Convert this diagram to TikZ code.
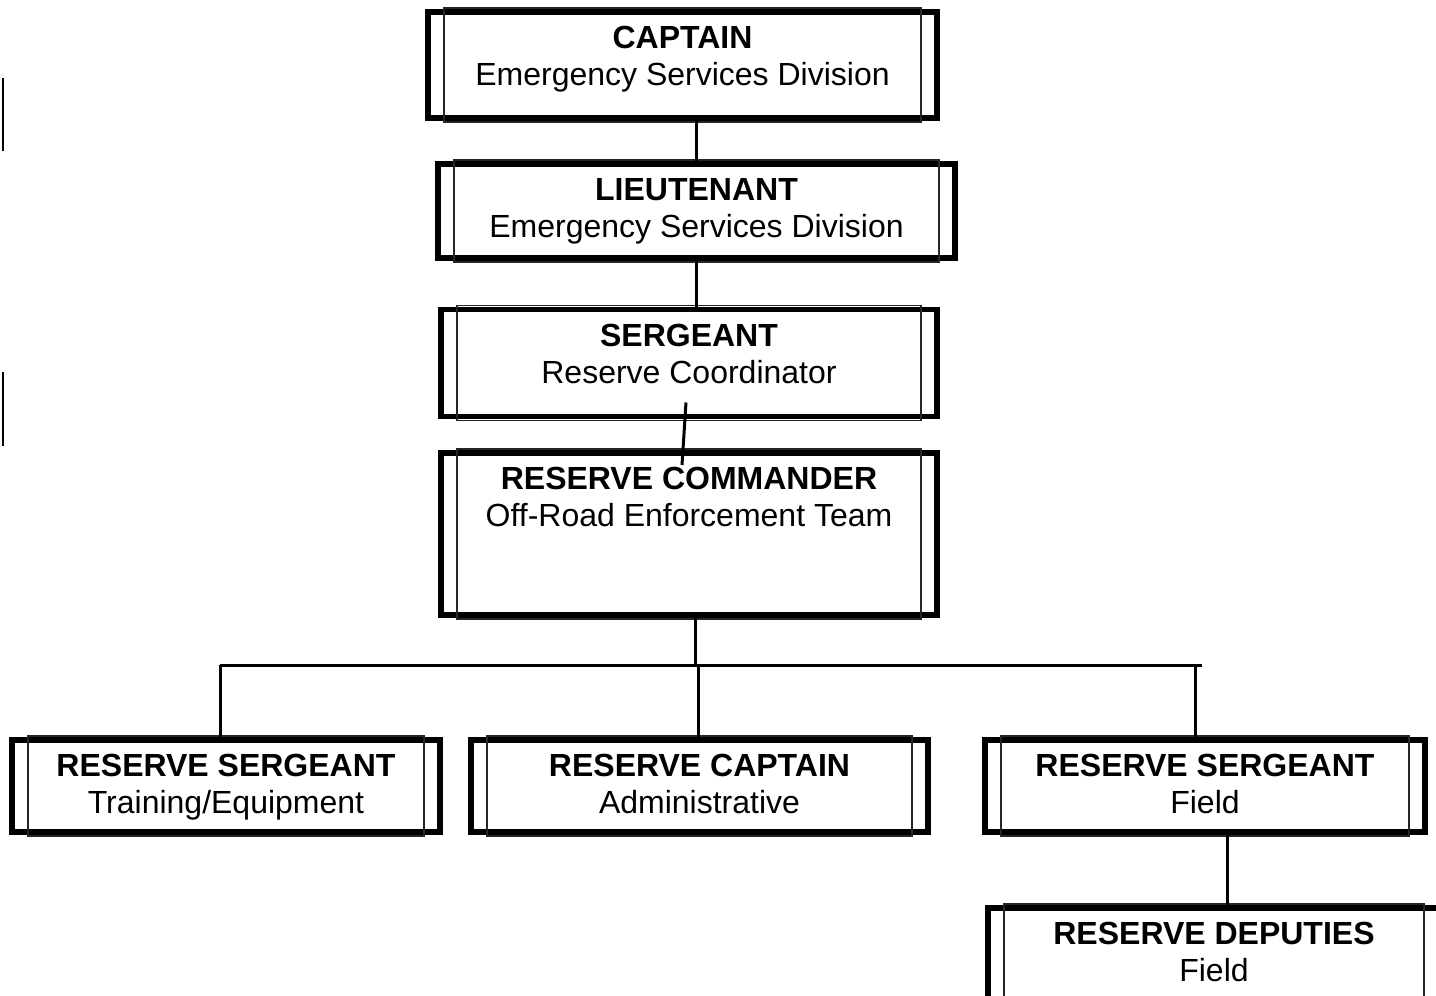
\documentclass[tikz,border=0pt]{standalone}
\usepackage{fontspec}
\setmainfont{Liberation Sans}
\usetikzlibrary{positioning}
\usetikzlibrary{calc}

\begin{document}
\begin{tikzpicture}[x=0.5pt, y=-0.5pt,
		rankbox/.style={draw, line width=2.8pt, outer sep=0pt, inner sep=0pt},
		inframe/.style={draw=black!85, line width=0.75pt},
		ranktext/.style={align=center, inner sep=0pt, font=\fontsize{16}{18.5}\selectfont},
		link/.style={line width=1.5pt}]
			\useasboundingbox (0,0) rectangle (1436,996);
			\node (capt) at (682.5,65) [rankbox, minimum width=254.5pt, minimum height=53pt] {};
			\node (lieut) at (696.5,211) [rankbox, minimum width=258.5pt, minimum height=47pt] {};
			\node (serg) at (689,363) [rankbox, minimum width=248pt, minimum height=53.5pt] {};
			\node (cmdr) at (689,534) [rankbox, minimum width=248pt, minimum height=81pt] {};
			\node (b1) at (226,786) [rankbox, minimum width=214pt, minimum height=46pt] {};
			\node (b2) at (699.5,786) [rankbox, minimum width=228.5pt, minimum height=46pt] {};
			\node (b3) at (1205,786) [rankbox, minimum width=220pt, minimum height=46pt] {};
			\node (b4) at (1214,954) [rankbox, minimum width=226pt, minimum height=46pt] {};
			\foreach \n in {capt,lieut,serg,cmdr,b1,b2,b3,b4}
				\draw [inframe] ([xshift=8pt, yshift=2pt]\n.north west) rectangle ([xshift=-8pt, yshift=-2pt]\n.south east);
			\node [below=7pt of capt.north, ranktext] (capttext) {\textbf{CAPTAIN}\\Emergency Services Division};
			\node [below=7pt of lieut.north, ranktext] (lieuttext) {\textbf{LIEUTENANT}\\Emergency Services Division};
			\node [below=7pt of serg.north, ranktext] (sergtext) {\textbf{SERGEANT}\\Reserve Coordinator};
			\node [below=7pt of cmdr.north, ranktext] (cmdrtext) {\textbf{RESERVE COMMANDER}\\Off-Road Enforcement Team};
			\node [below=7pt of b1.north, ranktext] (b1text) {\textbf{RESERVE SERGEANT}\\Training/Equipment};
			\node [below=7pt of b2.north, ranktext] (b2text) {\textbf{RESERVE CAPTAIN}\\Administrative};
			\node [below=7pt of b3.north, ranktext] (b3text) {\textbf{RESERVE SERGEANT}\\Field};
			\node [below=7pt of b4.north, ranktext] (b4text) {\textbf{RESERVE DEPUTIES}\\Field};
			\draw [link] (capt.south -| lieut.north) -- (lieut.north);
			\draw [link] (lieut.south) -- (lieut.south |- serg.north);
			\draw [link] ([xshift=-1.5pt, yshift=7pt]serg.south) -- ([xshift=-3.5pt, yshift=-6pt]cmdr.north);
			\coordinate (busl) at (220,665);
			\coordinate (busr) at (1202,665);
			\draw [link] (busl) -- (busr);
			\draw [link] ([xshift=3pt]cmdr.south) -- ([xshift=3pt]cmdr.south |- busl);
			\foreach \b/\dx in {b1/-3pt,b2/-0.75pt,b3/-5pt}
				\draw [link] ([xshift=\dx]\b.north) -- ([xshift=\dx]\b.north |- busl);
			\draw [link] ([xshift=6.5pt]b4.north |- b3.south) -- ([xshift=6.5pt]b4.north);
			%stray marks on the left
			\draw [line width=1pt] (3,78) -- (3,151);
			\draw [line width=1pt] (3,372) -- (3,446);
		\end{tikzpicture}
\end{document}
